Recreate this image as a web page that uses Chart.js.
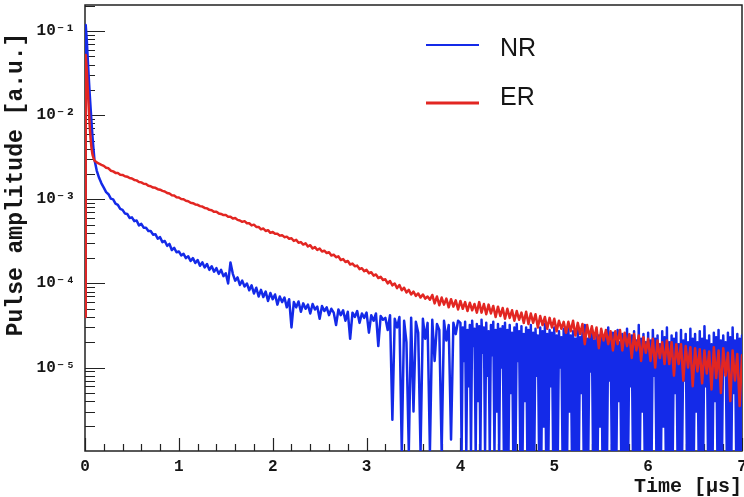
<!DOCTYPE html>
<html>
<head>
<meta charset="utf-8">
<script src="https://cdn.jsdelivr.net/npm/chart.js@4.4.1/dist/chart.umd.min.js"></script>
<style>
  html, body { margin: 0; padding: 0; background: #ffffff; }
  #wrap { width: 744px; height: 497px; }
</style>
</head>
<body>
<div id="wrap"><canvas id="c" width="744" height="497"></canvas></div>
<script>
// ---------------- data ----------------
const seriesLabels = ['NR', 'ER'];
const xTickValues = [0, 1, 2, 3, 4, 5, 6, 7];
const yTickExponents = [-5, -4, -3, -2, -1];

// early (fast) part of the pulse, time in microseconds
const timeEarly = [0, 0.005, 0.01, 0.02, 0.03, 0.04, 0.05, 0.06, 0.07, 0.08, 0.09, 0.1, 0.125, 0.15, 0.175];
const nrEarly = [4e-5, 0.05, 0.118, 0.075, 0.045, 0.028, 0.018, 0.012, 8e-3, 5.5e-3, 4e-3, 3e-3, 2.2e-3, 1.8e-3, 1.55e-3];
const erEarly = [4e-5, 0.03, 0.052, 0.033, 0.02, 0.012, 7.5e-3, 5.2e-3, 4.0e-3, 3.4e-3, 3.1e-3, 2.9e-3, 2.75e-3, 2.65e-3, 2.57e-3];

// NR tail part A: bins of 0.025 us from 0.2 us to 3.975 us
const nrStartA = 0.2, nrStepA = 0.025;
const nrTailA = [
  1.38e-3,1.22e-3,1.15e-3,1.02e-3,1.0e-3,8.9e-4,8.6e-4,7.7e-4,7.5e-4,6.8e-4,6.7e-4,6.0e-4,6.1e-4,5.5e-4,5.6e-4,4.9e-4,5.1e-4,4.6e-4,4.6e-4,4.2e-4,
  4.2e-4,3.8e-4,3.85e-4,3.4e-4,3.55e-4,3.1e-4,3.2e-4,2.8e-4,2.95e-4,2.5e-4,2.65e-4,2.35e-4,2.4e-4,2.15e-4,2.25e-4,2.0e-4,2.1e-4,1.85e-4,2.0e-4,1.75e-4,
  1.9e-4,1.62e-4,1.78e-4,1.55e-4,1.7e-4,1.45e-4,1.6e-4,1.38e-4,1.52e-4,1.3e-4,1.45e-4,1.22e-4,1.32e-4,1.0e-4,1.78e-4,1.3e-4,1.08e-4,1.18e-4,9.6e-5,1.08e-4,
  9.2e-5,1.0e-4,8.3e-5,9.5e-5,7.6e-5,8.9e-5,7.0e-5,8.4e-5,6.9e-5,8.0e-5,6.2e-5,7.7e-5,6.5e-5,7.4e-5,5.6e-5,7.0e-5,6.0e-5,6.8e-5,5.2e-5,6.5e-5,
  3.0e-5,6.0e-5,5.2e-5,6.1e-5,4.6e-5,5.8e-5,5.0e-5,5.6e-5,4.4e-5,5.7e-5,4.9e-5,5.3e-5,3.8e-5,5.4e-5,4.7e-5,5.2e-5,4.2e-5,5.0e-5,4.5e-5,3.2e-5,
  4.9e-5,4.2e-5,4.8e-5,3.6e-5,4.6e-5,2.2e-5,4.5e-5,4.0e-5,4.7e-5,3.4e-5,4.4e-5,3.9e-5,4.5e-5,2.6e-5,4.2e-5,3.6e-5,4.4e-5,1.8e-5,4.1e-5,3.7e-5,
  3.9e-5,2.8e-5,4.2e-5,2.4e-6,3.8e-5,3.0e-5,4.0e-5,0,3.6e-5,2.0e-5,0,3.9e-5,3.0e-6,3.5e-5,2.6e-5,0,3.8e-5,2.2e-5,3.4e-5,0,
  3.7e-5,1.2e-5,3.3e-5,2.8e-5,0,3.6e-5,2.1e-5,3.2e-5,1.4e-6,3.4e-5,2.5e-5,3.6e-5
];
// NR tail part B: finer bins of 0.0125 us from 4.0 us to 7.0 us
const nrStartB = 4.0, nrStepB = 0.0125;
const nrTailB = [
  3.4e-5,0,3.0e-5,1.2e-5,3.5e-5,0,2.8e-5,6e-6,3.2e-5,0,3.6e-5,1.8e-5,2.9e-5,0,3.3e-5,4e-6,3.1e-5,0,3.7e-5,1.5e-5,
  3.0e-5,0,3.4e-5,8e-6,2.7e-5,0,3.2e-5,1.4e-5,3.5e-5,0,2.8e-5,3e-6,3.3e-5,0,2.9e-5,1.0e-5,3.1e-5,0,3.4e-5,0,
  2.8e-5,0,3.2e-5,5e-6,2.6e-5,0,3.0e-5,0,3.3e-5,1.2e-5,2.7e-5,0,3.1e-5,0,2.5e-5,4e-6,3.0e-5,0,2.8e-5,0,
  3.2e-5,0,2.6e-5,0,2.9e-5,8e-6,2.4e-5,0,3.0e-5,0,2.7e-5,2e-6,3.3e-5,0,2.5e-5,0,2.8e-5,6e-6,2.6e-5,0,
  3.0e-5,0,2.4e-5,0,2.7e-5,1.0e-5,2.3e-5,0,2.9e-5,0,2.5e-5,0,3.1e-5,3e-6,2.4e-5,0,2.7e-5,0,2.2e-5,0,
  2.8e-5,0,2.3e-5,5e-6,2.6e-5,0,3.2e-5,0,2.2e-5,0,2.5e-5,9e-6,2.9e-5,0,2.1e-5,0,2.6e-5,0,2.4e-5,2e-6,
  2.7e-5,0,2.2e-5,0,2.5e-5,0,3.0e-5,7e-6,2.1e-5,0,2.6e-5,0,2.3e-5,0,2.8e-5,4e-6,2.0e-5,0,2.5e-5,0,
  2.3e-5,0,2.9e-5,0,2.0e-5,6e-6,2.4e-5,0,2.7e-5,0,2.1e-5,0,3.2e-5,0,2.2e-5,3e-6,2.5e-5,0,2.0e-5,0,
  2.6e-5,0,2.1e-5,0,2.8e-5,8e-6,2.2e-5,0,2.4e-5,0,1.9e-5,0,2.7e-5,2e-6,2.3e-5,0,3.0e-5,0,2.0e-5,0,
  2.4e-5,0,2.2e-5,5e-6,2.6e-5,0,1.9e-5,0,2.8e-5,0,2.1e-5,7e-6,2.5e-5,0,2.0e-5,0,2.9e-5,0,2.2e-5,0,
  2.5e-5,3e-6,2.0e-5,0,2.7e-5,0,2.2e-5,0,3.1e-5,6e-6,2.1e-5,0,2.4e-5,0,1.9e-5,0,2.6e-5,4e-6,2.3e-5,0,
  2.8e-5,0,2.1e-5,0,2.4e-5,9e-6,2.0e-5,0,2.6e-5,0,2.3e-5,0,3.0e-5,5e-6,2.1e-5,0,2.5e-5,0,2.2e-5,0,
  2.4e-5
];

// ER tail: bins of 0.025 us from 0.2 us to 7.0 us
const erStart = 0.2, erStep = 0.025;
const erTail = [
  2.50e-3,2.37e-3,2.34e-3,2.19e-3,2.15e-3,2.06e-3,2.05e-3,1.96e-3,1.95e-3,1.88e-3,1.86e-3,1.79e-3,1.77e-3,1.70e-3,1.68e-3,1.61e-3,1.59e-3,1.53e-3,1.52e-3,1.45e-3,
  1.43e-3,1.38e-3,1.37e-3,1.32e-3,1.30e-3,1.26e-3,1.24e-3,1.19e-3,1.17e-3,1.12e-3,1.11e-3,1.06e-3,1.05e-3,1.01e-3,1.00e-3,9.6e-4,9.5e-4,9.1e-4,9.0e-4,8.7e-4,
  8.6e-4,8.3e-4,8.2e-4,7.9e-4,7.8e-4,7.5e-4,7.4e-4,7.1e-4,7.1e-4,6.8e-4,6.7e-4,6.5e-4,6.5e-4,6.2e-4,6.2e-4,5.9e-4,6.0e-4,5.7e-4,5.6e-4,5.4e-4,
  5.5e-4,5.2e-4,5.2e-4,4.9e-4,5.0e-4,4.7e-4,4.7e-4,4.4e-4,4.5e-4,4.2e-4,4.3e-4,4.0e-4,4.1e-4,3.9e-4,3.9e-4,3.7e-4,3.75e-4,3.55e-4,3.6e-4,3.4e-4,
  3.45e-4,3.2e-4,3.3e-4,3.05e-4,3.1e-4,2.9e-4,3.0e-4,2.75e-4,2.85e-4,2.6e-4,2.7e-4,2.5e-4,2.6e-4,2.4e-4,2.45e-4,2.3e-4,2.35e-4,2.15e-4,2.2e-4,2.05e-4,
  2.1e-4,1.9e-4,1.95e-4,1.8e-4,1.85e-4,1.68e-4,1.72e-4,1.6e-4,1.63e-4,1.48e-4,1.52e-4,1.4e-4,1.45e-4,1.32e-4,1.36e-4,1.24e-4,1.28e-4,1.16e-4,1.2e-4,1.1e-4,
  1.12e-4,1.0e-4,1.07e-4,9.5e-5,1.0e-4,8.8e-5,9.6e-5,8.3e-5,8.9e-5,7.8e-5,8.4e-5,7.4e-5,8.0e-5,7.1e-5,7.6e-5,6.8e-5,7.4e-5,6.6e-5,7.0e-5,6.4e-5,
  7.3e-5,5.8e-5,7.0e-5,5.5e-5,6.8e-5,5.6e-5,6.6e-5,5.2e-5,6.5e-5,5.3e-5,6.3e-5,4.9e-5,6.2e-5,5.0e-5,6.0e-5,4.7e-5,5.9e-5,4.8e-5,5.7e-5,4.5e-5,
  6.0e-5,4.5e-5,5.7e-5,4.3e-5,5.6e-5,4.4e-5,5.4e-5,4.0e-5,5.3e-5,4.1e-5,5.1e-5,3.8e-5,5.0e-5,3.9e-5,4.8e-5,3.6e-5,4.7e-5,3.7e-5,4.5e-5,3.4e-5,
  4.6e-5,3.3e-5,4.4e-5,3.4e-5,4.3e-5,3.0e-5,4.1e-5,3.2e-5,4.0e-5,2.9e-5,3.9e-5,3.0e-5,3.8e-5,2.7e-5,3.6e-5,2.9e-5,3.5e-5,2.6e-5,3.5e-5,2.7e-5,
  3.6e-5,2.4e-5,3.4e-5,2.5e-5,3.3e-5,1.9e-5,3.2e-5,2.3e-5,3.1e-5,2.2e-5,3.0e-5,1.7e-5,2.9e-5,2.1e-5,2.8e-5,1.9e-5,2.7e-5,1.6e-5,2.7e-5,1.9e-5,
  2.8e-5,1.6e-5,2.6e-5,1.8e-5,2.5e-5,1.3e-5,2.5e-5,1.6e-5,2.4e-5,1.2e-5,2.3e-5,1.5e-5,2.2e-5,1.2e-5,2.2e-5,1.0e-5,2.1e-5,1.3e-5,2.0e-5,1.1e-5,
  2.1e-5,1.1e-5,2.0e-5,8.0e-6,1.9e-5,1.1e-5,1.9e-5,7.0e-6,1.8e-5,1.0e-5,1.75e-5,6.0e-6,1.7e-5,9.0e-6,1.65e-5,6.5e-6,1.6e-5,8.5e-6,1.55e-5,5.5e-6,
  1.75e-5,7.5e-6,1.6e-5,5.0e-6,1.7e-5,8.0e-6,1.5e-5,4.0e-6,1.6e-5,7.0e-6,1.45e-5,3.5e-6,1.4e-5
];

// ---------------- build points ----------------
const binTimes = (start, step, n) => Array.from({ length: n }, (_, i) => +(start + step * i).toFixed(4));
const toPoints = (times, vals) => times.map((t, i) => ({ x: t, y: vals[i] }));
const nrPoints = [].concat(
  toPoints(timeEarly, nrEarly),
  toPoints(binTimes(nrStartA, nrStepA, nrTailA.length), nrTailA),
  toPoints(binTimes(nrStartB, nrStepB, nrTailB.length), nrTailB)
);
const erPoints = [].concat(
  toPoints(timeEarly, erEarly),
  toPoints(binTimes(erStart, erStep, erTail.length), erTail)
);

// ---------------- style ----------------
const MONO = "'Liberation Mono', 'DejaVu Sans Mono', 'Courier New', monospace";
const SANS = "'Liberation Sans', Arial, sans-serif";
const NR_COLOR = 'rgb(20,42,232)';
const ER_COLOR = 'rgb(226,38,34)';
const AXIS_COLOR = '#222222';
const TEXT_COLOR = '#151515';

const SUP = { '-': '\u207B', '0': '\u2070', '1': '\u00B9', '2': '\u00B2', '3': '\u00B3', '4': '\u2074', '5': '\u2075', '6': '\u2076', '7': '\u2077', '8': '\u2078', '9': '\u2079' };
const toSup = (n) => String(n).split('').map(c => SUP[c]).join('');

// inward ROOT-style ticks and frame, positioned by the chart scales
const frameTicks = {
  id: 'frameTicks',
  beforeDatasetsDraw(chart) {
    const { ctx, chartArea: a, scales } = chart;
    const xs = scales.x, ys = scales.y;
    ctx.save();
    ctx.strokeStyle = AXIS_COLOR;
    ctx.lineWidth = 1.5;
    ctx.strokeRect(a.left, a.top, a.right - a.left, a.bottom - a.top);
    ctx.lineWidth = 1.2;
    ctx.beginPath();
    const nMinor = Math.round((xs.max - xs.min) / 0.2);
    for (let i = 0; i <= nMinor; i++) {
      const v = xs.min + i * 0.2;
      const px = Math.round(xs.getPixelForValue(v)) + 0.5;
      const len = (i % 5 === 0) ? 13 : 7;
      ctx.moveTo(px, a.bottom);
      ctx.lineTo(px, a.bottom - len);
    }
    for (let k = -7; k <= 0; k++) {
      for (let m = 1; m <= 9; m++) {
        const v = m * Math.pow(10, k);
        if (v < ys.min || v > ys.max) continue;
        const py = Math.round(ys.getPixelForValue(v)) + 0.5;
        const len = (m === 1) ? 20 : 10;
        ctx.moveTo(a.left, py);
        ctx.lineTo(a.left + len, py);
      }
    }
    ctx.stroke();
    ctx.restore();
  }
};

// legend drawn inside the plot (line sample + label)
const legendSpots = [
  { lineY: 45, textY: 49, lineW: 2.2 },
  { lineY: 103, textY: 98, lineW: 3 }
];
const innerLegend = {
  id: 'innerLegend',
  afterDraw(chart) {
    const ctx = chart.ctx;
    ctx.save();
    chart.data.datasets.forEach((ds, i) => {
      const s = legendSpots[i];
      ctx.strokeStyle = ds.borderColor;
      ctx.lineWidth = s.lineW;
      ctx.beginPath();
      ctx.moveTo(426, s.lineY);
      ctx.lineTo(479, s.lineY);
      ctx.stroke();
      ctx.fillStyle = TEXT_COLOR;
      ctx.font = "25px " + SANS;
      ctx.textAlign = 'left';
      ctx.textBaseline = 'middle';
      ctx.fillText(ds.label, 500, s.textY);
    });
    ctx.restore();
  }
};

const lineStyle = { pointRadius: 0, borderWidth: 2.5, tension: 0, fill: false, borderJoinStyle: 'round', borderCapStyle: 'round' };

new Chart(document.getElementById('c'), {
  type: 'line',
  data: {
    datasets: [
      Object.assign({ label: seriesLabels[0], data: nrPoints, borderColor: NR_COLOR, backgroundColor: NR_COLOR, order: 1 }, lineStyle),
      Object.assign({ label: seriesLabels[1], data: erPoints, borderColor: ER_COLOR, backgroundColor: ER_COLOR, order: 0 }, lineStyle)
    ]
  },
  options: {
    responsive: false,
    animation: false,
    events: [],
    parsing: false,
    normalized: true,
    devicePixelRatio: 1,
    layout: { padding: { top: 5, right: 2, left: 0, bottom: 0 } },
    plugins: { legend: { display: false }, tooltip: { enabled: false }, title: { display: false } },
    scales: {
      x: {
        type: 'linear',
        min: xTickValues[0],
        max: xTickValues[xTickValues.length - 1],
        grid: { display: false, drawTicks: false, tickLength: 0 },
        border: { display: false },
        ticks: {
          stepSize: 1, autoSkip: false, maxRotation: 0, minRotation: 0, padding: 6,
          color: TEXT_COLOR,
          font: { family: MONO, size: 16, weight: 'bold' },
          callback: (v) => xTickValues.includes(v) ? String(v) : ''
        },
        title: {
          display: true, text: 'Time [\u03BCs]', align: 'end', color: TEXT_COLOR, padding: 0,
          font: { family: MONO, size: 20, weight: 'bold', lineHeight: 1 }
        },
        afterFit(s) { s.height = 46; s.paddingLeft = 0; s.paddingRight = 0; }
      },
      y: {
        type: 'logarithmic',
        min: 1.02e-6,
        max: 0.204,
        grid: { display: false, drawTicks: false, tickLength: 0 },
        border: { display: false },
        ticks: {
          autoSkip: false, padding: 10,
          color: TEXT_COLOR,
          font: { family: MONO, size: 16, weight: 'bold' },
          callback: (v) => {
            const e = Math.log10(v);
            const r = Math.round(e);
            return (Math.abs(e - r) < 1e-6 && yTickExponents.includes(r)) ? '10' + toSup(r) : '';
          }
        },
        title: {
          display: true, text: 'Pulse amplitude [a.u.]  ', align: 'end', color: TEXT_COLOR,
          padding: { top: 5, bottom: 0 },
          font: { family: MONO, size: 23, weight: 'bold', lineHeight: 1 }
        },
        afterFit(s) { s.width = 85; s.paddingTop = 0; s.paddingBottom = 0; }
      }
    }
  },
  plugins: [frameTicks, innerLegend]
});
</script>
</body>
</html>
